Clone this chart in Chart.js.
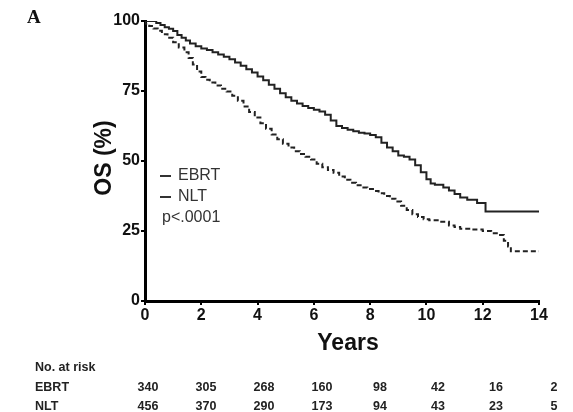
<!DOCTYPE html>
<html>
<head>
<meta charset="utf-8">
<script src="https://cdn.jsdelivr.net/npm/chart.js@4/dist/chart.umd.min.js"></script>
<style>
  body { margin: 0; background: #fff; }
  #wrap { position: relative; width: 573px; height: 412px; font-family: "Liberation Sans", Arial, sans-serif; }
  #wrap canvas { position: absolute; left: 0; top: 0; }
  .lbl { position: absolute; white-space: nowrap; color: #111; }
  #panel { left: 27px; top: 6px; font: bold 19px "Liberation Serif", serif; }
  #ytitle { left: 103px; top: 158px; font-weight: bold; font-size: 23px; transform: translate(-50%, -50%) rotate(-90deg); }
  #xtitle { left: 348px; top: 342px; font-weight: bold; font-size: 23px; transform: translate(-50%, -50%); }
  .leg { font-size: 16px; color: #333; }
  .sample { display: inline-block; width: 11px; vertical-align: middle; margin-right: 7px; border-top: 2px solid #333; }
  .sample.dash { border-top-style: dashed; }
  .risk { font-size: 12.5px; font-weight: bold; color: #222; transform: translate(-50%, -50%); }
  .riskName { font-size: 12.5px; font-weight: bold; color: #222; transform: translateY(-50%); }
</style>
</head>
<body>
<div id="wrap">
  <canvas id="km" width="573" height="412"></canvas>
  <div class="lbl" id="panel">A</div>
  <div class="lbl" id="ytitle">OS (%)</div>
  <div class="lbl" id="xtitle">Years</div>
  <div class="lbl leg" style="left:160px; top:166px;"><span class="sample"></span>EBRT</div>
  <div class="lbl leg" style="left:160px; top:187px;"><span class="sample dash"></span>NLT</div>
  <div class="lbl leg" style="left:162px; top:208px;">p&lt;.0001</div>
</div>
<script>
// Kaplan-Meier estimates (years, % surviving)
const ebrtYears = [0, 0.4, 0.55, 0.7, 0.85, 1.0, 1.15, 1.3, 1.45, 1.6, 1.8, 2.0, 2.2, 2.4, 2.6, 2.8, 3.0, 3.2, 3.4, 3.6, 3.8, 4.0, 4.2, 4.4, 4.6, 4.8, 5.0, 5.2, 5.4, 5.6, 5.8, 6.0, 6.2, 6.4, 6.6, 6.8, 7.0, 7.2, 7.4, 7.6, 7.8, 8.0, 8.2, 8.4, 8.6, 8.8, 9.0, 9.2, 9.4, 9.6, 9.8, 10.0, 10.15, 10.3, 10.6, 10.8, 11.0, 11.2, 11.45, 11.8, 12.1, 12.25, 14]
const ebrtOS = [100, 100, 99.3, 98.6, 97.8, 97.2, 96.4, 95, 94, 93, 92, 91, 90.2, 89.6, 88.8, 88, 87.2, 86.3, 85.2, 84, 82.8, 81.6, 80.2, 78.8, 77.2, 75.8, 74.2, 72.8, 71.5, 70.5, 69.6, 68.9, 68.3, 67.7, 66.5, 64.5, 62.5, 61.8, 61.2, 60.6, 60.1, 59.8, 59.3, 58.5, 56.5, 54.8, 53.5, 52, 51.5, 50.5, 48.5, 46, 43.5, 42, 41.5, 40.5, 39.5, 38.2, 37, 36.2, 35, 32, 32]

const nltYears = [0, 0.15, 0.3, 0.45, 0.6, 0.8, 1.0, 1.2, 1.4, 1.55, 1.7, 1.85, 2.0, 2.15, 2.3, 2.5, 2.7, 2.9, 3.1, 3.3, 3.5, 3.7, 3.9, 4.1, 4.3, 4.5, 4.7, 4.9, 5.1, 5.3, 5.5, 5.7, 5.9, 6.1, 6.3, 6.5, 6.7, 6.9, 7.1, 7.3, 7.5, 7.7, 7.9, 8.1, 8.3, 8.5, 8.7, 8.9, 9.1, 9.3, 9.5, 9.7, 9.9, 10.1, 10.4, 10.8, 11.0, 11.2, 11.6, 12.0, 12.3, 12.5, 12.75, 12.9, 13.0, 13.1, 14]
const nltOS = [100, 99, 98.2, 97.3, 96.5, 95.3, 94, 92.4, 90.5, 88.8, 86.8, 84.5, 82, 80, 79, 78, 77, 75.8, 74.8, 73.3, 71.5, 69.5, 67.5, 65.5, 63.5, 61.5, 59.5, 57.8, 56.2, 54.8, 53.5, 52.5, 51.5, 50.5, 49, 47.8, 46.8, 45.8, 44.5, 43.3, 42.2, 41.3, 40.5, 40, 39.3, 38.5, 37.5, 36.5, 35.5, 34, 32.5, 31, 30, 29.2, 28.8, 28.3, 27, 26.4, 25.8, 25.5, 25, 24.2, 23.6, 21.5, 19.5, 17.8, 17.8]

// numbers at risk, one per 2-year tick
const riskYears = [0, 2, 4, 6, 8, 10, 12, 14]
const riskEBRT = [340, 305, 268, 160, 98, 42, 16, 2]
const riskNLT = [456, 370, 290, 173, 94, 43, 23, 5]

const toPoints = (xs, ys) => xs.map((x, i) => ({x: x, y: ys[i]}))

const wrap = document.getElementById('wrap')
function addLabel(text, cls, left, top) {
    const d = document.createElement('div')
    d.className = 'lbl ' + cls
    d.textContent = text
    d.style.left = left + 'px'
    d.style.top = top + 'px'
    wrap.appendChild(d)
}
addLabel('No. at risk', 'riskName', 35, 367)
addLabel('EBRT', 'riskName', 35, 387)
addLabel('NLT', 'riskName', 35, 406)
riskYears.forEach((yr, i) => {
    // table columns are spread a little wider than the axis
    const left = 148 + yr / 14 * 406
    addLabel(String(riskEBRT[i]), 'risk', left, 387)
    addLabel(String(riskNLT[i]), 'risk', left, 406)
})

const ctx = document.getElementById('km').getContext('2d')
const tickFont = {family: '"Liberation Sans", Arial, sans-serif', size: 16, weight: 'bold'}

new Chart(ctx, {
    type: 'line',
    data: {
        datasets: [{
            label: 'EBRT',
            data: toPoints(ebrtYears, ebrtOS),
            stepped: 'after',
            borderColor: '#222',
            borderWidth: 2,
            pointRadius: 0,
            fill: false
        }, {
            label: 'NLT',
            data: toPoints(nltYears, nltOS),
            stepped: 'after',
            borderColor: '#222',
            borderWidth: 2,
            borderDash: [5, 3],
            pointRadius: 0,
            fill: false
        }]
    },
    options: {
        responsive: false,
        animation: false,
        layout: {padding: {top: 21, right: 34, left: 0, bottom: 0}},
        plugins: {legend: {display: false}, tooltip: {enabled: false}},
        scales: {
            x: {
                type: 'linear',
                min: 0,
                max: 14,
                afterFit: s => { s.height = 111 },
                border: {display: true, color: '#000', width: 3},
                grid: {drawOnChartArea: false, drawTicks: true, tickLength: 4, color: '#000', lineWidth: 2},
                ticks: {stepSize: 2, color: '#111', font: tickFont, padding: 1, maxRotation: 0}
            },
            y: {
                min: 0,
                max: 100,
                afterFit: s => { s.width = 145 },
                border: {display: true, color: '#000', width: 3},
                grid: {drawOnChartArea: false, drawTicks: true, tickLength: 4, color: '#000', lineWidth: 2},
                ticks: {stepSize: 25, color: '#111', font: tickFont, padding: 1}
            }
        }
    }
})
</script>
</body>
</html>
